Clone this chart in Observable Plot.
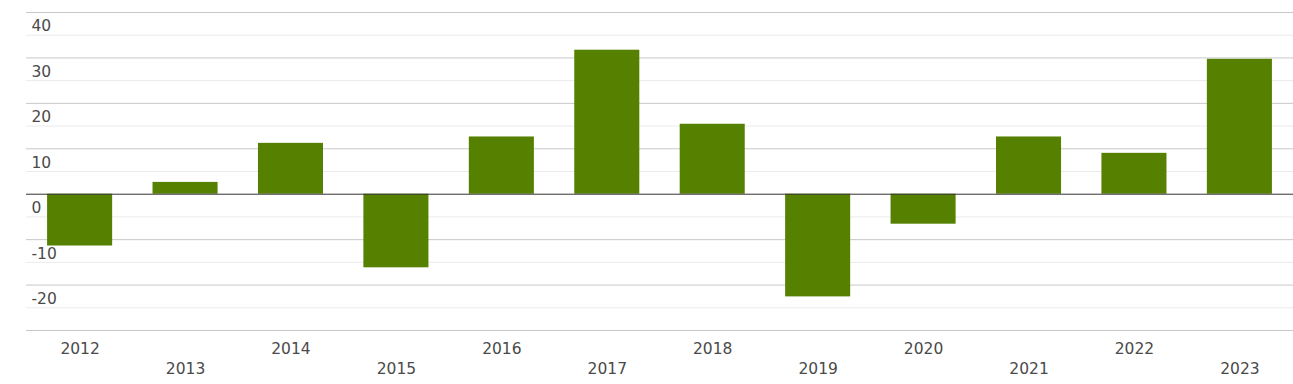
<!DOCTYPE html>
<html>
<head>
<meta charset="utf-8">
<script src="https://cdn.jsdelivr.net/npm/d3@7"></script>
<script src="https://cdn.jsdelivr.net/npm/@observablehq/plot@0.6"></script>
<style>
  html, body { margin: 0; padding: 0; background: #fff; }
  #chart svg { display: block; }
</style>
</head>
<body>
<div id="chart"></div>
<script>
const years = ["2012","2013","2014","2015","2016","2017","2018","2019","2020","2021","2022","2023"];
const values = [-11.4, 2.6, 11.2, -16.2, 12.6, 31.7, 15.4, -22.6, -6.6, 12.6, 9.0, 29.7];
const majorTicks = [-30, -20, -10, 0, 10, 20, 30, 40];
const minorTicks = [-25, -15, -5, 5, 15, 25, 35];
const yLabels = [-20, -10, 0, 10, 20, 30, 40];

const data = years.map((y, i) => ({year: y, value: values[i], row: i % 2}));
const font = "DejaVu Sans, sans-serif";

const chart = Plot.plot({
  width: 1293,
  height: 384,
  marginLeft: 26,
  marginRight: 0,
  marginTop: 12,
  marginBottom: 54,
  style: {fontFamily: font, background: "#fff"},
  x: {domain: years, paddingInner: 0.383, paddingOuter: 0.2, align: 0.5, round: false, axis: null},
  y: {domain: [-30, 40], axis: null},
  marks: [
    Plot.ruleY(minorTicks, {stroke: "#ebebeb", strokeWidth: 1}),
    Plot.ruleY(majorTicks.filter(d => d !== 0), {stroke: "#c8c8c8", strokeWidth: 1}),
    Plot.barY(data, {x: "year", y: "value", fill: "#558000"}),
    Plot.ruleY([0], {stroke: "#333", strokeWidth: 1}),
    Plot.text(yLabels, {y: d => d, text: d => String(d), frameAnchor: "left", textAnchor: "start", dx: 5, dy: 14, lineAnchor: "middle", fill: "#4a4a4a", fontSize: 15.5}),
    Plot.text(data.filter(d => d.row === 0), {x: "year", text: "year", frameAnchor: "bottom", dy: 19, lineAnchor: "middle", fill: "#4a4a4a", fontSize: 15.5}),
    Plot.text(data.filter(d => d.row === 1), {x: "year", text: "year", frameAnchor: "bottom", dy: 39, lineAnchor: "middle", fill: "#4a4a4a", fontSize: 15.5})
  ]
});
document.getElementById("chart").appendChild(chart);
</script>
</body>
</html>
